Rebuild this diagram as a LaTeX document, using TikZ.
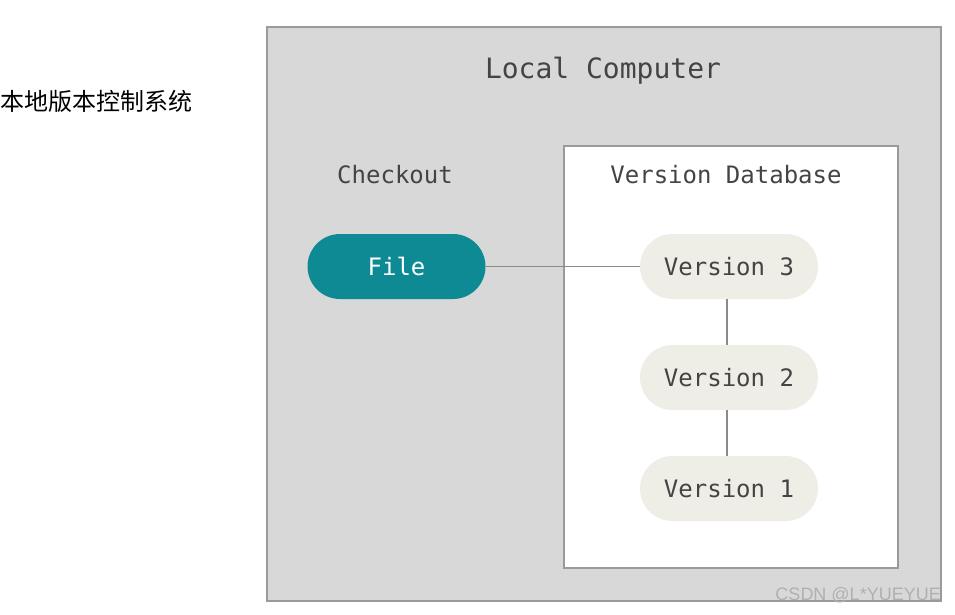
\documentclass[tikz,border=0pt]{standalone}
\usepackage{fontspec}
\setmonofont{DejaVu Sans Mono}
\newfontfamily\cjk{Noto Sans CJK SC}
\newfontfamily\wmfont{Liberation Sans}
\definecolor{outerfill}{HTML}{D8D8D8}
\definecolor{boxline}{HTML}{9A9A9A}
\definecolor{tealfill}{HTML}{0E8A94}
\definecolor{pillfill}{HTML}{EEEDE6}
\definecolor{txtgray}{HTML}{444444}
\definecolor{linegray}{HTML}{8A8A8A}
\definecolor{wmgray}{HTML}{B0B0B0}
\begin{document}
\begin{tikzpicture}[x=1pt,y=-1pt,
  pill/.style={rounded corners=32.5pt, minimum width=178pt, minimum height=65pt, inner sep=0pt, font=\ttfamily\fontsize{24}{28}\selectfont},
  vpill/.style={pill, fill=pillfill, text=txtgray},
  fpill/.style={pill, fill=tealfill, text=white},
  lbl/.style={font=\ttfamily\fontsize{24}{28}\selectfont, text=txtgray, inner sep=0pt},
  conn/.style={draw=linegray, line width=1.5pt}]
\useasboundingbox (0,0) rectangle (955,614);
\fill[white] (0,0) rectangle (955,614);
\node[rectangle, draw=boxline, line width=2pt, fill=outerfill, minimum width=674pt, minimum height=574pt, inner sep=0pt] (outer) at (604,314) {};
\node[rectangle, draw=boxline, line width=2pt, fill=white, minimum width=334pt, minimum height=422pt, inner sep=0pt] (db) at (731,357) {};
\node[lbl, font=\ttfamily\fontsize{28}{32}\selectfont] (title) at (603,71) {Local Computer};
\node[lbl] (checkout) at (395,175) {Checkout};
\node[lbl] (dbtitle) at (726,175) {Version Database};
\node[fpill] (file) at (396.5,266.5) {File};
\node[vpill] (v3) at (729,266.5) {Version 3};
\node[vpill] (v2) at (729,377.5) {Version 2};
\node[vpill] (v1) at (729,488.5) {Version 1};
\draw[conn] (file.east) -- (v3.west);
\draw[conn] (v3.south -| 727,0) -- (v2.north -| 727,0);
\draw[conn] (v2.south -| 727,0) -- (v1.north -| 727,0);
\node[anchor=west, inner sep=0pt, font=\cjk\fontsize{24}{28}\selectfont] (cn) at (0.5,101) {本地版本控制系统};
\node[anchor=east, inner sep=0pt, font=\wmfont\fontsize{18}{22}\selectfont, text=wmgray] (wm) at (941,595) {CSDN @L*YUEYUE};
\end{tikzpicture}
\end{document}
